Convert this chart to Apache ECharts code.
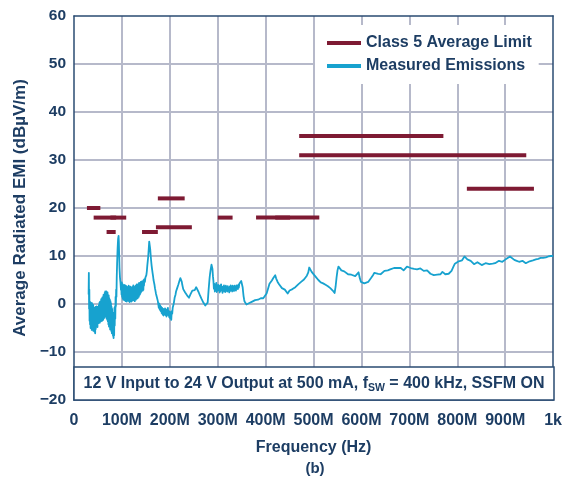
<!DOCTYPE html>
<html><head><meta charset="utf-8">
<script src="https://cdn.jsdelivr.net/npm/echarts@6/dist/echarts.min.js"></script>
<style>html,body{margin:0;padding:0;background:#fff}#c{width:565px;height:478px}</style>
</head><body><div id="c"></div>
<script>
// ---- data ----
const xTickValues = [0, 100, 200, 300, 400, 500, 600, 700, 800, 900, 1000];
const xTickLabels = ['0', '100M', '200M', '300M', '400M', '500M', '600M', '700M', '800M', '900M', '1k'];
const yTickValues = [-20, -10, 0, 10, 20, 30, 40, 50, 60];

const seriesNames = ['Class 5 Average Limit', 'Measured Emissions'];

// Class 5 average limit segments (MHz, dBµV/m)
const limitStartMHz = [27, 41, 76, 68, 142, 171, 175, 300, 380, 420, 470, 470, 820];
const limitEndMHz   = [55, 88, 109, 87, 175, 246, 231, 331, 512, 451, 771, 944, 960];
const limitLevel    = [20, 18, 18, 15, 15, 16, 22, 18, 18, 18, 35, 31, 24];

// measured emissions [MHz, dBµV/m]
const emissionPoints = [
[30.5,2.0],[31,6.5],[31.5,-1.0],[32,3.0],[32.5,-3.5],[33,0.5],[33.5,-4.2],[34,0.0],[34.6,-5.0],[35.2,0.3],[35.8,-4.5],[36.4,-0.5],[37,-5.4],[37.6,0.2],[38.2,-4.8],[38.8,-1.0],[39.4,-5.2],[40,-0.2],[40.6,-5.6],[41.2,-1.2],[41.8,-4.6],[42.4,-0.8],[43,-5.8],[43.6,-1.5],[44.2,-6.1],[44.8,-0.6],[45.4,-5.2],[46,-1.0],[46.6,-4.7],[47.2,-0.5],[47.8,-4.4],[48.4,-1.2],[49,-4.8],[49.6,-0.6],[50.2,-3.8],[50.8,-1.0],[51.4,-4.0],[52,-0.2],[52.6,-3.6],[53.2,0.3],[53.8,-3.9],[54.4,0.5],[55,-3.2],[55.6,0.1],[56.2,-3.6],[56.8,1.0],[57.4,-3.0],[58,0.6],[58.6,-3.5],[59.2,1.4],[59.8,-2.6],[60.4,1.2],[61,-3.3],[61.6,1.9],[62.2,-2.4],[62.8,1.6],[63.4,-2.9],[64,2.3],[64.6,-2.0],[65.2,2.6],[65.8,-2.6],[66.4,2.1],[67,-2.2],[67.6,2.6],[68.2,-3.0],[68.8,2.2],[69.4,-3.3],[70,2.4],[70.6,-3.6],[71.2,1.6],[71.8,-4.2],[72.4,1.8],[73,-4.7],[73.6,1.2],[74.2,-4.4],[74.8,0.9],[75.4,-5.3],[76,0.6],[76.6,-4.9],[77.2,0.2],[77.8,-5.6],[78.4,-0.6],[79,-6.1],[79.6,-1.0],[80.2,-5.8],[80.8,-2.0],[81.4,-6.6],[82,-2.6],[82.6,-7.1],[83.2,-1.8],[83.8,-6.5],[84.4,-0.8],[85,-4.5],[85.6,-0.5],[86.2,-3.0],[86.8,1.5],[87.4,-0.5],[88,3.0],[88.6,1.5],[89.2,5.5],[90,8.5],[91,11.5],[92,13.5],[93,14.2],[93.6,13.0],[94.2,10.5],[95,7.5],[96,5.5],[97,4.5],[98,3.0],[98.6,4.2],
[99.2,2.0],[99.8,4.5],[100.4,1.5],[101,4.2],[101.6,1.2],[102.2,3.8],[102.8,0.9],[103.4,3.6],[104,1.4],[104.6,4.0],[105.2,0.8],[105.8,3.4],[106.4,1.0],[107,3.9],[107.6,0.6],[108.2,3.2],[108.8,1.2],[109.4,3.7],[110,0.5],[110.6,3.0],[111.2,0.9],[111.8,3.5],[112.4,0.7],[113,3.3],[113.6,1.1],[114.2,3.8],[114.8,0.6],[115.4,3.1],[116,0.4],[116.6,3.4],[117.2,0.8],[117.8,3.6],[118.4,1.0],[119,3.2],[119.6,0.5],[120.2,3.0],[120.8,0.9],[121.4,3.5],[122,0.7],[122.6,3.3],[123.2,1.2],[123.8,3.9],[124.4,0.8],[125,3.4],[125.6,1.0],[126.2,3.1],[126.8,0.6],[127.4,3.6],[128,1.3],[128.6,3.8],[129.2,0.9],[129.8,3.5],[130.4,1.1],[131,4.1],[131.6,1.4],[132.2,3.7],[132.8,1.2],[133.4,4.0],[134,1.6],[134.6,4.2],[135.2,1.5],[135.8,4.4],[136.4,1.9],[137,4.3],[137.6,2.0],[138.2,4.4],[138.8,2.3],[139.4,4.6],[140,2.5],[140.6,4.5],[141.2,2.7],[141.8,4.7],[142.4,2.9],[143,4.6],[143.6,2.8],[144.2,4.8],[144.8,3.0],[145.4,5.0],[146,3.8],[147,5.2],[148,4.6],[149,5.5],[150,5.2],[151,6.0],[152,6.8],[153,8.0],[154,9.0],[155,10.0],[156,11.5],[157,13.0],[157.6,13.3],[158.2,12.8],[159,11.5],[160,10.2],[161,9.0],[162,8.0],[163,7.2],[164,6.5],[165,5.8],[166,5.0],[167,4.5],[168,4.0],[169,3.3],[170,2.8],[171,2.2],[172,1.9],[173,1.4],[174,1.0],[175,0.6],
[176,0.3],[177,-0.8],[178,0.1],[179,-1.2],[180,-0.3],[181,-1.5],[182,-0.6],[183,-1.9],[184,-0.8],[185,-2.2],[186,-1.0],[187,-2.4],[188,-1.2],[189,-2.0],[190,-0.9],[191,-2.3],[192,-1.1],[193,-2.6],[194,-1.3],[195,-2.1],[196,-0.8],[197,-2.4],[198,-1.5],[199,-2.8],[200,-1.6],[201,-3.0],[202,-1.8],[203,-3.3],[204,-1.5],[205,-2.0],[206,-0.8],[207,-1.2],[208,0.0],[209,0.6],[210,1.3],[211,1.0],[212,2.0],[213,2.6],[214,2.3],[215,3.2],[216,3.6],[217,3.3],[218,4.1],[219,4.4],[220,4.8],[221,5.0],[222,5.4],[223,5.8],[224,5.4],[225,4.6],[226,4.0],[227,3.7],[228,3.1],[229,3.4],[230,2.7],[231,3.0],[232,2.4],[233,2.6],[234,2.0],[235,2.3],[236,1.8],[237,2.0],[238,1.5],[239,1.8],[240,1.3],[241,1.6],[242,1.4],[243,2.0],[244,1.8],[245,2.4],[246,2.2],[247,2.8],[248,2.4],[249,3.0],[250,2.6],[251,3.2],[252,2.9],[253,3.3],[254,3.0],[255,3.5],[256,3.2],[257,3.6],[258,3.1],[259,3.0],[260,2.5],[261,2.6],[262,2.0],[263,2.1],[264,1.6],[265,1.6],[266,1.1],[267,1.2],[268,0.7],[269,0.8],[270,0.3],[271,0.4],[272,0.0],[273,0.1],[274,-0.3],[275,-0.2],[276,-0.6],[277,-0.5],[278,-0.7],[279,0.3],[280,1.6],[281,3.0],[282,4.2],[283,5.4],[284,6.3],[285,7.0],[286,7.6],[287,8.2],[288,8.5],[289,7.3],[290,5.8],[291,4.8],
[292,3.2],[293,4.2],[294,2.6],[295,4.0],[296,2.9],[297,4.4],[298,2.5],[299,3.8],[300,2.8],[301,4.0],[302,3.0],[303,3.7],[304,2.4],[305,3.9],[306,2.7],[307,4.1],[308,3.0],[309,3.6],[310,2.3],[311,3.5],[312,2.8],[313,3.9],[314,2.6],[315,3.4],[316,2.5],[317,3.8],[318,2.9],[319,3.5],[320,2.6],[321,3.7],[322,2.8],[323,3.3],[324,2.4],[325,3.6],[326,2.7],[327,3.9],[328,3.0],[329,3.5],[330,2.6],[331,3.8],[332,2.9],[333,3.6],[334,2.7],[335,3.8],[336,3.0],[337,3.5],[338,2.8],[339,3.9],[340,3.2],[341,3.8],[342,3.1],[343,4.0],[344,3.4],[345,4.2],[346,3.8],[347,4.5],[348,4.3],[349,4.8],[350,5.1],[351,4.4],[352,3.5],[353,2.5],[354,1.6],[355,1.0],[356,0.5],[358,0.1],[360,-0.1],[362,-0.2],[364,0.0],[366,0.2],[368,0.1],[370,0.3],[372,0.5],[374,0.4],[376,0.7],[378,0.8],[380,0.6],[382,1.0],[384,0.9],[386,1.2],[388,1.1],[390,1.2],[395,1.2],[399,1.3],[402,2.2],[405,3.2],[408,4.2],[410,4.6],[413,4.9],[416,5.4],[418,5.6],[420,6.0],[422,5.3],[425,4.6],[428,4.1],[431,3.7],[434,3.3],[437,3.1],[440,3.0],[443,2.9],[446,2.2],[448,2.6],[450,2.8],[453,2.9],[456,3.1],[459,3.3],[462,3.5],[465,3.8],[468,4.1],[471,4.3],[474,4.6],[477,4.9],[480,5.1],[483,5.3],[486,5.9],[489,6.6],[491,7.6],[493,7.2],[496,6.7],[500,6.3],
[505,5.6],[510,5.0],[515,4.5],[520,4.3],[525,4.0],[530,3.7],[535,3.3],[540,2.8],[544,2.3],[546,3.6],[548,5.5],[550,7.0],[552,7.8],[555,7.4],[558,7.0],[561,7.0],[564,6.8],[568,6.4],[572,6.2],[575,6.0],[579,6.1],[583,5.9],[587,5.8],[590,6.0],[594,6.6],[596,5.6],[599,4.6],[602,4.4],[606,4.3],[610,4.5],[614,4.6],[617,4.9],[620,5.4],[624,6.0],[627,6.5],[631,6.4],[635,6.3],[640,6.2],[644,6.3],[648,6.9],[651,7.2],[655,7.0],[660,7.2],[664,7.1],[668,7.5],[671,7.9],[675,7.5],[678,7.2],[682,7.5],[685,7.6],[688,7.0],[691,7.4],[695,7.8],[700,7.6],[705,7.4],[710,7.3],[716,7.2],[720,7.3],[723,7.4],[727,7.1],[730,6.9],[734,7.0],[737,7.0],[741,6.6],[744,6.3],[747,6.2],[751,6.0],[754,6.0],[758,6.1],[762,6.0],[765,6.2],[769,6.7],[772,6.4],[775,6.2],[779,6.3],[782,6.3],[785,6.4],[788,6.9],[792,7.8],[795,8.4],[799,8.7],[803,8.9],[807,9.0],[810,9.1],[813,9.5],[815,9.9],[818,9.5],[821,9.3],[824,9.2],[828,9.0],[832,8.9],[835,8.3],[838,8.6],[842,8.7],[846,8.4],[851,8.1],[855,8.3],[859,8.5],[863,8.6],[867,8.3],[870,8.2],[874,8.4],[879,8.5],[883,8.8],[887,9.0],[891,8.9],[894,8.8],[898,9.1],[901,9.3],[905,9.5],[910,9.9],[914,9.6],[919,9.2],[924,9.0],[929,8.8],[933,9.1],[936,9.0],[940,8.7],[943,8.5],[947,8.8],[951,8.9],[954,9.0],[958,9.1],[964,9.3],[969,9.4],[974,9.6],[979,9.6],[985,9.7],[990,9.9],[995,10.0],[1000,10.0]
];

const annotationParts = ['12 V Input to 24 V Output at 500 mA, f', 'SW', ' = 400 kHz, SSFM ON'];
const xAxisTitle = 'Frequency (Hz)';
const yAxisTitle = 'Average Radiated EMI (dBµV/m)';
const panelLabel = '(b)';

// ---- styles ----
const NAVY = '#1d3d63';
const FRAME = '#2a4b72';
const GRIDC = '#b6b9ca';
const LIMITC = '#7e1a33';
const EMITC = '#17a2cf';
const FONT = '"Liberation Sans", Arial, Helvetica, sans-serif';

const chart = echarts.init(document.getElementById('c'), null, {renderer: 'canvas'});

const limitSeries = limitStartMHz.map((s, i) => ({
  name: seriesNames[0],
  type: 'line',
  data: [[s, limitLevel[i]], [limitEndMHz[i], limitLevel[i]]],
  showSymbol: false,
  symbol: 'none',
  silent: true,
  z: 3,
  lineStyle: {color: LIMITC, width: 4, cap: 'butt'},
  itemStyle: {color: LIMITC},
  animation: false
}));

const option = {
  animation: false,
  backgroundColor: '#fff',
  grid: {left: 74, right: 11, top: 16, bottom: 78, containLabel: false},
  legend: {
    left: 315, top: 25, orient: 'vertical',
    backgroundColor: '#fff',
    padding: [9, 7, 9, 12],
    itemGap: 5,
    itemWidth: 34, itemHeight: 4,
    data: [
      {name: seriesNames[0], icon: 'rect', itemStyle: {color: LIMITC}},
      {name: seriesNames[1], icon: 'rect', itemStyle: {color: EMITC}}
    ],
    textStyle: {color: NAVY, fontFamily: FONT, fontWeight: 'bold', fontSize: 16, lineHeight: 18},
    z: 20
  },
  xAxis: [{
    type: 'value', min: 0, max: 1000, interval: 100, position: 'bottom',
    axisLine: {show: true, onZero: false, lineStyle: {color: FRAME, width: 1.5}},
    axisTick: {show: false},
    splitLine: {show: true, showMinLine: false, showMaxLine: false, lineStyle: {color: GRIDC, width: 2}},
    axisLabel: {
      margin: 13, color: NAVY, fontFamily: FONT, fontWeight: 'bold', fontSize: 16,
      formatter: v => { const i = xTickValues.indexOf(v); return i >= 0 ? xTickLabels[i] : ''; }
    },
    name: xAxisTitle, nameLocation: 'middle', nameGap: 40,
    nameTextStyle: {color: NAVY, fontFamily: FONT, fontWeight: 'bold', fontSize: 16}
  }, {
    type: 'value', min: 0, max: 1000, interval: 100, position: 'top',
    axisLine: {show: true, onZero: false, lineStyle: {color: FRAME, width: 1.5}},
    axisTick: {show: false}, axisLabel: {show: false}, splitLine: {show: false}
  }],
  yAxis: [{
    type: 'value', min: -20, max: 60, interval: 10, position: 'left',
    axisLine: {show: true, onZero: false, lineStyle: {color: FRAME, width: 1.5}},
    axisTick: {show: false},
    splitLine: {show: true, showMinLine: false, showMaxLine: false, lineStyle: {color: GRIDC, width: 2}},
    axisLabel: {
      margin: 8, color: NAVY, fontFamily: FONT, fontWeight: 'bold', fontSize: 15.5,
      formatter: v => yTickValues.indexOf(v) >= 0 ? (v < 0 ? '\u2212' + Math.abs(v) : String(v)) : ''
    },
    name: yAxisTitle, nameLocation: 'middle', nameGap: 44, nameRotate: 90,
    nameTextStyle: {color: NAVY, fontFamily: FONT, fontWeight: 'bold', fontSize: 17}
  }, {
    type: 'value', min: -20, max: 60, interval: 10, position: 'right',
    axisLine: {show: true, onZero: false, lineStyle: {color: FRAME, width: 1.5}},
    axisTick: {show: false}, axisLabel: {show: false}, splitLine: {show: false}
  }],
  series: [
    ...limitSeries,
    {
      name: seriesNames[1],
      type: 'line',
      data: emissionPoints,
      showSymbol: false, symbol: 'none', silent: true,
      z: 4,
      lineStyle: {color: EMITC, width: 1.8, join: 'round'},
      itemStyle: {color: EMITC},
      animation: false
    }
  ],
  graphic: [
    {
      type: 'rect', z: 50,
      shape: {x: 74, y: 367, width: 480, height: 33},
      style: {fill: '#fff', stroke: FRAME, lineWidth: 1.5}
    },
    {
      type: 'text', z: 51, x: 314, y: 384,
      style: {
        text: '{a|' + annotationParts[0] + '}{s|' + annotationParts[1] + '}{a|' + annotationParts[2] + '}',
        align: 'center', verticalAlign: 'middle',
        rich: {
          a: {fill: NAVY, fontFamily: FONT, fontWeight: 'bold', fontSize: 16, lineHeight: 20},
          s: {fill: NAVY, fontFamily: FONT, fontWeight: 'bold', fontSize: 10.5, lineHeight: 20, verticalAlign: 'bottom', padding: [6, 0, 0, 0]}
        }
      }
    },
    {
      type: 'text', z: 51, x: 315, y: 469,
      style: {text: panelLabel, align: 'center', verticalAlign: 'middle', fill: NAVY, fontFamily: FONT, fontWeight: 'bold', fontSize: 15}
    }
  ]
};
chart.setOption(option);
</script>
</body></html>
